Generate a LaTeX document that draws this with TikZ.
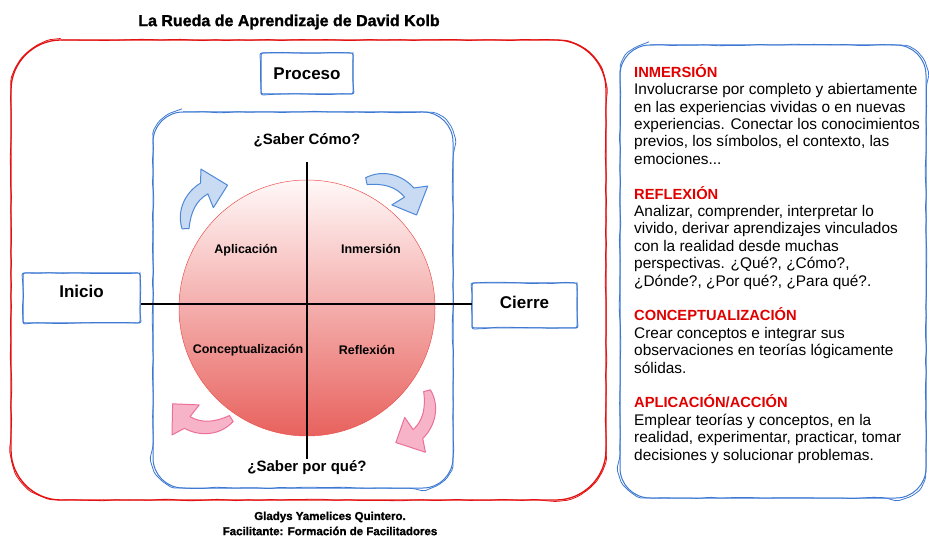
\documentclass[tikz,border=0pt]{standalone}
\usepackage{fontspec}
\setmainfont{Liberation Sans}
\newfontfamily\heavyfont{Liberation Sans}[BoldFeatures={FakeBold=1.4}]
\usetikzlibrary{decorations.pathmorphing}
\definecolor{frred}{HTML}{E31212}
\definecolor{frblue}{HTML}{3D78D2}
\definecolor{headred}{HTML}{E00000}
\definecolor{arblue}{HTML}{C9DBF2}
\definecolor{arblueedge}{HTML}{4D88D8}
\definecolor{arpink}{HTML}{F7B4C9}
\definecolor{arpinkedge}{HTML}{EC6F97}
\definecolor{wheeltop}{HTML}{FFF8F8}
\definecolor{wheelbot}{HTML}{E8625E}
\newcommand\fs[2]{\fontsize{#1}{#2}\selectfont}
\newcommand\kolbhead[1]{{\color{headred}\bfseries\fs{14.7}{17.4}#1}}
\newcommand\rrect[5]{({#1+#5},#2) -- ({#3-#5},#2) .. controls ({#3-0.45*#5},#2) and (#3,{#2+0.45*#5}) .. (#3,{#2+#5}) -- (#3,{#4-#5}) .. controls (#3,{#4-0.45*#5}) and ({#3-0.45*#5},#4) .. ({#3-#5},#4) -- ({#1+#5},#4) .. controls ({#1+0.45*#5},#4) and (#1,{#4-0.45*#5}) .. (#1,{#4-#5}) -- (#1,{#2+#5}) .. controls (#1,{#2+0.45*#5}) and ({#1+0.45*#5},#2) .. cycle}
\newcommand\kolbarrow{(-24,30) .. controls (-29,12) and (-20,-6) .. (-4,-15) -- (-3,-29) -- (23,-12) -- (8,10) -- (3,-4) .. controls (-9,2) and (-15,14) .. (-17,30) -- cycle}

\begin{document}
\begin{tikzpicture}[x=1pt, y=-1pt,
	wobble/.style={decorate, decoration={random steps, segment length=11pt, amplitude=0.8pt}, rounded corners=2pt},
	sketch/.style={draw=#1, line width=1pt, postaction={draw=#1, line width=0.8pt, wobble}},
	boxnode/.style={sketch=frblue, rounded corners=2pt, font=\bfseries\fs{17}{20}},
	axis/.style={line width=1.6pt},
	quad/.style={font=\bfseries\fs{12.5}{15}},
	ask/.style={font=\bfseries\fs{15}{18}}]
	\pgfmathsetseed{11}
	\useasboundingbox (0,0) rectangle (929,537);
	\node[font=\heavyfont\bfseries\fs{16}{19}] (title) at (289,22) {La Rueda de Aprendizaje de David Kolb};
	\draw[sketch=frred, line width=1.3pt] \rrect{11}{40}{606}{500}{50};
	\draw[sketch=frblue] \rrect{153}{112}{453}{488}{30};
	\draw[sketch=frblue] \rrect{620}{45}{926}{498}{30};
	\node[boxnode, minimum width=92pt, minimum height=41pt] (proceso) at (307,73.5) {Proceso};
	\node[boxnode, minimum width=117pt, minimum height=50pt, text depth=13pt] (inicio) at (81.5,298) {Inicio};
	\node[boxnode, minimum width=105pt, minimum height=45pt, text depth=7pt] (cierre) at (524.5,305.5) {Cierre};
	\node[circle, minimum size=256pt, inner sep=0pt, draw=wheelbot!85!red, line width=0.5pt, top color=wheeltop, bottom color=wheelbot] (wheel) at (307,308) {};
	\coordinate (hmid) at (307,304);
	\coordinate (vtop) at (307,162);
	\coordinate (vbot) at (307,459);
	\draw[axis] (vtop) -- (vbot);
	\draw[axis] (inicio.east |- hmid) -- (cierre.west |- hmid);
	\node[quad] (apl) at (246,250) {Aplicación};
	\node[quad] (inm) at (371,249) {Inmersión};
	\node[quad] (con) at (248,350) {Conceptualización};
	\node[quad] (ref) at (367,350) {Reflexión};
	\node[ask] (como) at (307,140) {¿Saber Cómo?};
	\node[ask] (porque) at (307,468) {¿Saber por qué?};
	\foreach \ax/\ay/\ang/\afill/\aedge in {205/198/2/arblue/arblueedge, 400/195/-78/arblue/arblueedge, 415/425/-165/arpink/arpinkedge, 195/417/122/arpink/arpinkedge}
		\draw[fill=\afill, draw=\aedge, line width=1pt, line join=round, shift={(\ax,\ay)}, rotate=\ang] \kolbarrow;
	\node[anchor=north west, inner sep=0pt, align=left, font=\fs{15.4}{17.4}] (info) at (634,64) {%
		\kolbhead{INMERSIÓN}\\
		Involucrarse por completo y abiertamente\\
		en las experiencias vividas o en nuevas\\
		experiencias. Conectar los conocimientos\\
		previos, los símbolos, el contexto, las\\
		emociones...\\[17.4pt]
		\kolbhead{REFLEXIÓN}\\
		Analizar, comprender, interpretar lo\\
		vivido, derivar aprendizajes vinculados\\
		con la realidad desde muchas\\
		perspectivas. ¿Qué?, ¿Cómo?,\\
		¿Dónde?, ¿Por qué?, ¿Para qué?.\\[17.4pt]
		\kolbhead{CONCEPTUALIZACIÓN}\\
		Crear conceptos e integrar sus\\
		observaciones en teorías lógicamente\\
		sólidas.\\[17.4pt]
		\kolbhead{APLICACIÓN/ACCIÓN}\\
		Emplear teorías y conceptos, en la\\
		realidad, experimentar, practicar, tomar\\
		decisiones y solucionar problemas.};
	\node[font=\heavyfont\bfseries\fs{11.5}{14}] (foot1) at (330,517) {Gladys Yamelices Quintero.};
	\node[font=\heavyfont\bfseries\fs{11.5}{14}] (foot2) at (330,531) {Facilitante: Formación de Facilitadores};
\end{tikzpicture}
\end{document}
